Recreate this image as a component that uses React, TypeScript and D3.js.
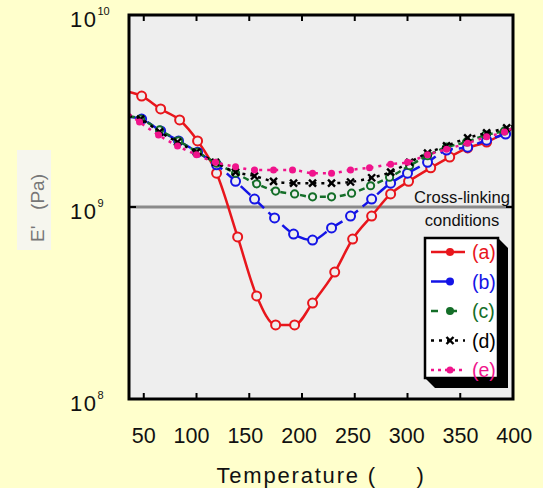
import React from "react";
import * as d3 from "d3";

const W = 543;
const H = 488;

const xTicks = [50, 100, 150, 200, 250, 300, 350, 400];
const yTicks = [1e8, 1e9, 1e10];
const yExps = ["8", "9", "10"];
const legendLabels = ["(a)", "(b)", "(c)", "(d)", "(e)"];
const crossLinkLevel = 1e9;

const tempA = [36, 48, 66, 84, 101, 119, 139, 157, 175, 193, 210, 231, 248, 266, 284, 301, 322, 340, 357, 375, 392, 400];
const modA = [3.97e9, 3.78e9, 3.24e9, 2.84e9, 2.21e9, 1.5e9, 6.98e8, 3.44e8, 2.43e8, 2.43e8, 3.16e8, 4.58e8, 6.81e8, 8.97e8, 1.17e9, 1.36e9, 1.6e9, 1.82e9, 2.03e9, 2.18e9, 2.43e9, 2.58e9];

const tempB = [36, 48, 66, 83, 101, 119, 137, 155, 174, 192, 210, 228, 246, 266, 284, 300, 319, 337, 357, 375, 393, 400];
const modB = [2.94e9, 2.87e9, 2.49e9, 2.21e9, 1.93e9, 1.66e9, 1.36e9, 1.1e9, 8.77e8, 7.23e8, 6.73e8, 7.78e8, 8.97e8, 1.1e9, 1.33e9, 1.5e9, 1.71e9, 1.98e9, 2.05e9, 2.23e9, 2.4e9, 2.49e9];

const tempC = [36, 47, 65, 83, 101, 119, 137, 157, 175, 193, 210, 228, 247, 265, 283, 302, 319, 337, 356, 374, 392, 400];
const modC = [2.98e9, 2.87e9, 2.52e9, 2.21e9, 1.93e9, 1.69e9, 1.5e9, 1.32e9, 1.21e9, 1.17e9, 1.13e9, 1.13e9, 1.18e9, 1.29e9, 1.43e9, 1.64e9, 1.85e9, 2.05e9, 2.18e9, 2.37e9, 2.49e9, 2.58e9];

const tempD = [36, 47, 65, 82, 100, 118, 137, 155, 173, 192, 210, 228, 246, 266, 284, 302, 319, 337, 357, 375, 394, 400];
const modD = [2.98e9, 2.87e9, 2.46e9, 2.18e9, 1.93e9, 1.71e9, 1.52e9, 1.45e9, 1.36e9, 1.33e9, 1.33e9, 1.33e9, 1.35e9, 1.42e9, 1.52e9, 1.71e9, 1.91e9, 2.08e9, 2.29e9, 2.43e9, 2.58e9, 2.64e9];

const tempE = [36, 46, 64, 82, 100, 118, 137, 155, 173, 191, 210, 228, 246, 264, 284, 300, 319, 337, 357, 375, 392, 400];
const modE = [3.05e9, 2.77e9, 2.37e9, 2.08e9, 1.87e9, 1.71e9, 1.62e9, 1.56e9, 1.56e9, 1.56e9, 1.5e9, 1.5e9, 1.56e9, 1.6e9, 1.67e9, 1.71e9, 1.87e9, 2.0e9, 2.15e9, 2.32e9, 2.46e9, 2.58e9];

const FONT = "'Liberation Sans', Arial, Helvetica, sans-serif";

type Marker = "ring" | "smallring" | "cross" | "dot";
interface Series {
  t: number[];
  v: number[];
  color: string;
  dash: string;
  marker: Marker;
  legendDash: string;
}

const series: Series[] = [
  { t: tempA, v: modA, color: "#e8161c", dash: "none", marker: "ring", legendDash: "none" },
  { t: tempB, v: modB, color: "#1414e6", dash: "13,6", marker: "ring", legendDash: "20,30" },
  { t: tempC, v: modC, color: "#146e28", dash: "6,4", marker: "smallring", legendDash: "7,12" },
  { t: tempD, v: modD, color: "#000000", dash: "3,5", marker: "cross", legendDash: "3,5" },
  { t: tempE, v: modE, color: "#f0148c", dash: "3,5", marker: "dot", legendDash: "3,4" },
];

function MarkerShape({ kind, x, y, color, legend }: { kind: Marker; x: number; y: number; color: string; legend?: boolean }) {
  if (kind === "cross") {
    const s = 3.5;
    return (
      <g stroke={color} strokeWidth={2.4}>
        <line x1={x - s} y1={y - s} x2={x + s} y2={y + s} />
        <line x1={x - s} y1={y + s} x2={x + s} y2={y - s} />
      </g>
    );
  }
  if (kind === "dot" || legend) {
    return <circle cx={x} cy={y} r={kind === "dot" ? 3.5 : 4} fill={color} />;
  }
  const r = kind === "ring" ? 4.5 : 3.6;
  return <circle cx={x} cy={y} r={r} fill="#eeeeee" stroke={color} strokeWidth={2} />;
}

export default function App() {
  const left = 129, right = 513, top = 15, bottom = 399;
  const x = d3.scaleLinear().domain([36, 400]).range([left, right]);
  const y = d3.scaleLog().domain([1e8, 1e10]).range([bottom, top]);

  const line = d3
    .line<[number, number]>()
    .x((d) => x(d[0]))
    .y((d) => y(d[1]))
    .curve(d3.curveMonotoneX);

  const tickMarks = xTicks.filter((t) => t < 400);
  const yLine = y(crossLinkLevel);

  // legend geometry
  const lgL = 425, lgT = 238, lgW = 73, lgH = 140, sh = 10;
  const rowY = (i: number) => lgT + 14 + i * 29.5;

  return (
    <svg
      width={W}
      height={H}
      style={{ position: "absolute", left: 0, top: 0, background: "#ffffcc" }}
      fontFamily={FONT}
    >
      <rect x={0} y={0} width={W} height={H} fill="#ffffcc" />
      <defs>
        <clipPath id="plotclip">
          <rect x={left} y={top} width={right - left} height={bottom - top} />
        </clipPath>
      </defs>
      <rect x={left} y={top} width={right - left} height={bottom - top} fill="#eeeeee" />

      {/* cross-linking reference line */}
      <line x1={left} x2={right} y1={yLine} y2={yLine} stroke="#8a8a8a" strokeWidth={3} />
      <text x={462} y={yLine - 4} textAnchor="middle" fontSize={16.6} fill="#111">
        Cross-linking
      </text>
      <text x={462} y={yLine + 19} textAnchor="middle" fontSize={16.6} fill="#111">
        conditions
      </text>

      {/* series */}
      <g clipPath="url(#plotclip)">
        {series.map((s, i) => {
          const pts = s.t.map((t, k) => [t, s.v[k]] as [number, number]);
          return (
            <g key={i}>
              <path
                d={line(pts) || ""}
                fill="none"
                stroke={s.color}
                strokeWidth={2.5}
                strokeDasharray={s.dash}
                strokeLinecap="butt"
              />
              {pts.slice(1, -1).map((p, k) => (
                <MarkerShape key={k} kind={s.marker} x={x(p[0])} y={y(p[1])} color={s.color} />
              ))}
            </g>
          );
        })}
      </g>

      {/* legend */}
      <polygon
        points={`${lgL + lgW},${lgT} ${lgL + lgW + sh},${lgT + sh} ${lgL + lgW + sh},${lgT + lgH + sh} ${lgL + sh},${lgT + lgH + sh} ${lgL},${lgT + lgH}`}
        fill="#000"
      />
      <rect x={lgL} y={lgT} width={lgW} height={lgH} fill="#fff" stroke="#000" strokeWidth={2.5} />
      {series.map((s, i) => (
        <g key={i}>
          <line
            x1={lgL + 6}
            x2={lgL + 40}
            y1={rowY(i)}
            y2={rowY(i)}
            stroke={s.color}
            strokeWidth={2.5}
            strokeDasharray={s.legendDash}
          />
          <MarkerShape kind={s.marker} x={lgL + 25} y={rowY(i)} color={s.color} legend />
          <text x={lgL + 47} y={rowY(i) + 7} fontSize={19.5} fill={s.color}>
            {legendLabels[i]}
          </text>
        </g>
      ))}

      {/* ticks */}
      {tickMarks.map((t) => (
        <g key={t} stroke="#000" strokeWidth={2}>
          <line x1={x(t)} x2={x(t)} y1={bottom} y2={bottom - 6} />
          <line x1={x(t)} x2={x(t)} y1={top} y2={top + 6} />
        </g>
      ))}
      {yTicks.slice(1, -1).map((t) => (
        <g key={t} stroke="#000" strokeWidth={2}>
          <line x1={left} x2={left + 7} y1={y(t)} y2={y(t)} />
          <line x1={right} x2={right - 7} y1={y(t)} y2={y(t)} />
        </g>
      ))}

      {/* frame */}
      <rect x={left} y={top} width={right - left} height={bottom - top} fill="none" stroke="#000" strokeWidth={3} />

      {/* y tick labels */}
      {yTicks.map((t, i) => (
        <text key={t} x={70} y={y(t) + 12} fontSize={22} letterSpacing={1.5} fill="#111">
          10
          <tspan dy={-12} fontSize={11} letterSpacing={0}>
            {yExps[i]}
          </tspan>
        </text>
      ))}

      {/* x tick labels */}
      <text x={x(50) - 12} y={y(1e8) + 44} fontSize={21.5} fill="#111" style={{ whiteSpace: "pre" }}>
        {xTicks.join("   ")}
      </text>

      {/* axis titles */}
      <text
        x={(left + right) / 2}
        y={483}
        textAnchor="middle"
        fontSize={22}
        letterSpacing={1.8}
        fill="#111"
        style={{ whiteSpace: "pre" }}
      >
        {"Temperature (     )"}
      </text>
      <rect x={17} y={150} width={34} height={100} fill="#f6f6ee" />
      <text
        transform="translate(44,208) rotate(-90)"
        textAnchor="middle"
        fontSize={19}
        fill="#777"
        style={{ whiteSpace: "pre" }}
      >
        {"E'   (Pa)"}
      </text>
    </svg>
  );
}
